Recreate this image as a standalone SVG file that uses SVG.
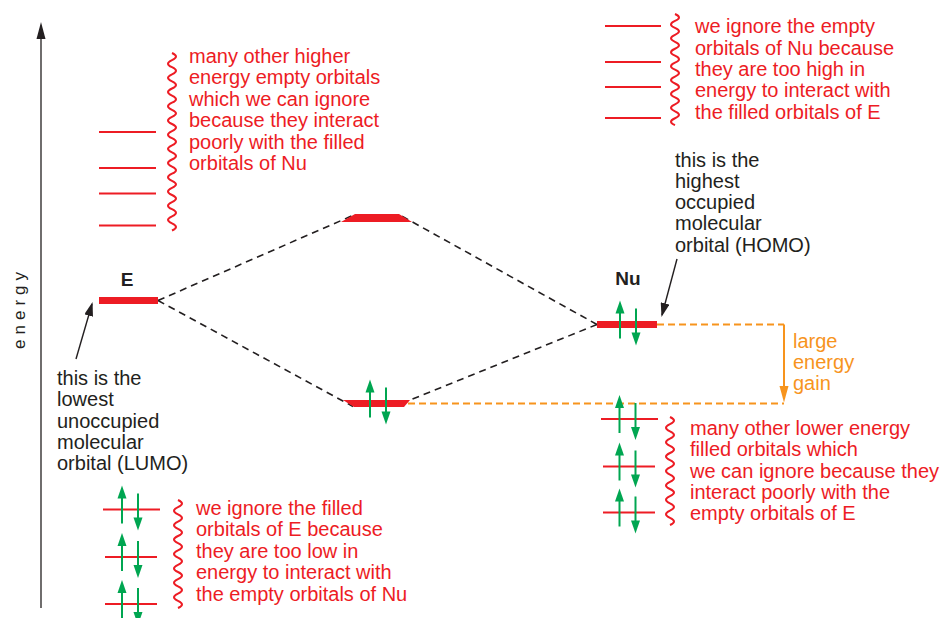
<svg xmlns="http://www.w3.org/2000/svg" width="940" height="618" viewBox="0 0 940 618">
<defs>
<style>
text{font-family:"Liberation Sans",Arial,Helvetica,sans-serif;font-size:20px}
.red{fill:#ED1C24}
.blk{fill:#231F20}
.org{fill:#F7941D}
.lbl{font-weight:bold;font-size:19px;fill:#231F20}
.lvl{stroke:#ED1C24;stroke-width:2;fill:none}
.bar{fill:#ED1C24}
.wave{stroke:#ED1C24;stroke-width:2;fill:none}
.dash{stroke:#231F20;stroke-width:1.6;stroke-dasharray:7 5;fill:none}
.odash{stroke:#F7941D;stroke-width:2;stroke-dasharray:7 4;fill:none}
.ptr{stroke:#231F20;stroke-width:1.4;fill:none}
</style>
<marker id="ah" markerUnits="userSpaceOnUse" viewBox="0 0 14 9" markerWidth="14" markerHeight="9" refX="12" refY="4.5" orient="auto">
<path d="M0,0 L14,4.5 L0,9 z" fill="#231F20"/>
</marker>
<g id="spin">
<line x1="-8" y1="14" x2="-8" y2="-12" stroke="#00A651" stroke-width="2"/>
<polygon points="-8,-24 -12.5,-11 -3.5,-11" fill="#00A651"/>
<line x1="8" y1="-16" x2="8" y2="9" stroke="#00A651" stroke-width="2"/>
<polygon points="8,21 3.5,8 12.5,8" fill="#00A651"/>
</g>
</defs>
<rect width="940" height="618" fill="#fff"/>

<g id="axis">
<line x1="41" y1="608" x2="41" y2="36" stroke="#231F20" stroke-width="1.3"/>
<polygon points="41,22 36.5,39 45.5,39" fill="#231F20"/>
<text class="blk" transform="translate(25,308) rotate(-90)" text-anchor="middle" style="font-size:17px;letter-spacing:5px">energy</text>
</g>

<g id="connectors">
<line class="dash" x1="158" y1="300.5" x2="355" y2="214.5"/>
<line class="dash" x1="158" y1="300.5" x2="353" y2="406.5"/>
<line class="dash" x1="597" y1="324.5" x2="399" y2="214.5"/>
<line class="dash" x1="597" y1="324.5" x2="409" y2="400.5"/>
<line class="odash" x1="657" y1="324.5" x2="784" y2="324.5"/>
<line class="odash" x1="408" y1="403.5" x2="784" y2="403.5"/>
<line x1="784" y1="324.5" x2="784" y2="388" stroke="#F7941D" stroke-width="2"/>
<polygon points="784,402.5 779.5,386 788.5,386" fill="#F7941D"/>
<line class="ptr" x1="677" y1="259" x2="662" y2="315" marker-end="url(#ah)"/>
<line class="ptr" x1="76" y1="359" x2="92" y2="304" marker-end="url(#ah)"/>
</g>

<g id="E-upper">
<line class="lvl" x1="99" y1="132" x2="156" y2="132"/>
<line class="lvl" x1="99" y1="168" x2="156" y2="168"/>
<line class="lvl" x1="99" y1="193.5" x2="156" y2="193.5"/>
<line class="lvl" x1="99" y1="225.5" x2="156" y2="225.5"/>
<path class="wave" d="M172,53 q8,3.55 0,7.1 t0,7.1 t0,7.1 t0,7.1 t0,7.1 t0,7.1 t0,7.1 t0,7.1 t0,7.1 t0,7.1 t0,7.1 t0,7.1 t0,7.1 t0,7.1 t0,7.1 t0,7.1 t0,7.1 t0,7.1 t0,7.1 t0,7.1 t0,7.1 t0,7.1 t0,7.1 t0,7.1 t0,7.1"/>
<text class="red" x="189">
<tspan x="189" y="63">many other higher</tspan>
<tspan x="189" y="84.4">energy empty orbitals</tspan>
<tspan x="189" y="105.8">which we can ignore</tspan>
<tspan x="189" y="127.2">because they interact</tspan>
<tspan x="189" y="148.6">poorly with the filled</tspan>
<tspan x="189" y="170">orbitals of Nu</tspan>
</text>
</g>

<g id="E">
<text class="lbl" x="127" y="286" text-anchor="middle">E</text>
<rect class="bar" x="99" y="297" width="59" height="7"/>
</g>

<g id="LUMO-note">
<text class="blk">
<tspan x="57" y="385">this is the</tspan>
<tspan x="57" y="406.3">lowest</tspan>
<tspan x="57" y="427.6">unoccupied</tspan>
<tspan x="57" y="448.9">molecular</tspan>
<tspan x="57" y="470.2">orbital (LUMO)</tspan>
</text>
</g>

<g id="E-lower">
<line class="lvl" x1="103" y1="509.5" x2="160" y2="509.5"/>
<line class="lvl" x1="105" y1="557" x2="157" y2="557"/>
<line class="lvl" x1="105" y1="604" x2="157" y2="604"/>
<use href="#spin" transform="translate(130,509.5)"/>
<use href="#spin" transform="translate(130,557)"/>
<use href="#spin" transform="translate(130,604)"/>
<path class="wave" d="M178,500 q8,3.6 0,7.2 t0,7.2 t0,7.2 t0,7.2 t0,7.2 t0,7.2 t0,7.2 t0,7.2 t0,7.2 t0,7.2 t0,7.2 t0,7.2 t0,7.2 t0,7.2 t0,7.2"/>
<text class="red">
<tspan x="196" y="515">we ignore the filled</tspan>
<tspan x="196" y="536.4">orbitals of E because</tspan>
<tspan x="196" y="557.8">they are too low in</tspan>
<tspan x="196" y="579.2">energy to interact with</tspan>
<tspan x="196" y="600.6">the empty orbitals of Nu</tspan>
</text>
</g>

<g id="MO-upper">
<polygon class="bar" points="355,214 399,214 412,222 341,222"/>
</g>

<g id="MO-lower">
<polygon class="bar" points="343,400 410,400 404,407 354,407"/>
<use href="#spin" transform="translate(378,403.5)"/>
</g>

<g id="Nu-upper">
<line class="lvl" x1="605" y1="26" x2="661" y2="26"/>
<line class="lvl" x1="605" y1="62" x2="661" y2="62"/>
<line class="lvl" x1="605" y1="87" x2="661" y2="87"/>
<line class="lvl" x1="605" y1="118" x2="661" y2="118"/>
<path class="wave" d="M675,14 q8,3.47 0,6.95 t0,6.95 t0,6.95 t0,6.95 t0,6.95 t0,6.95 t0,6.95 t0,6.95 t0,6.95 t0,6.95 t0,6.95 t0,6.95 t0,6.95 t0,6.95 t0,6.95 t0,6.95"/>
<text class="red">
<tspan x="695" y="33.3">we ignore the empty</tspan>
<tspan x="695" y="54.6">orbitals of Nu because</tspan>
<tspan x="695" y="75.9">they are too high in</tspan>
<tspan x="695" y="97.2">energy to interact with</tspan>
<tspan x="695" y="118.5">the filled orbitals of E</tspan>
</text>
</g>

<g id="HOMO-note">
<text class="blk">
<tspan x="675" y="166.5">this is the</tspan>
<tspan x="675" y="187.8">highest</tspan>
<tspan x="675" y="209.1">occupied</tspan>
<tspan x="675" y="230.4">molecular</tspan>
<tspan x="675" y="251.7">orbital (HOMO)</tspan>
</text>
</g>

<g id="Nu">
<text class="lbl" x="628" y="285" text-anchor="middle">Nu</text>
<rect class="bar" x="597" y="321" width="60" height="7"/>
<use href="#spin" transform="translate(628,324.5)"/>
</g>

<g id="gain-label">
<text class="org">
<tspan x="793" y="347.5">large</tspan>
<tspan x="793" y="368.8">energy</tspan>
<tspan x="793" y="390.1">gain</tspan>
</text>
</g>

<g id="Nu-lower">
<line class="lvl" x1="601" y1="419" x2="658" y2="419"/>
<line class="lvl" x1="603" y1="466.5" x2="655" y2="466.5"/>
<line class="lvl" x1="603" y1="512.5" x2="655" y2="512.5"/>
<use href="#spin" transform="translate(627.5,419)"/>
<use href="#spin" transform="translate(627.5,466.5)"/>
<use href="#spin" transform="translate(627.5,512.5)"/>
<path class="wave" d="M670,417 q8,3.6 0,7.2 t0,7.2 t0,7.2 t0,7.2 t0,7.2 t0,7.2 t0,7.2 t0,7.2 t0,7.2 t0,7.2 t0,7.2 t0,7.2 t0,7.2 t0,7.2 t0,7.2"/>
<text class="red">
<tspan x="690" y="435">many other lower energy</tspan>
<tspan x="690" y="456.3">filled orbitals which</tspan>
<tspan x="690" y="477.6">we can ignore because they</tspan>
<tspan x="690" y="498.9">interact poorly with the</tspan>
<tspan x="690" y="520.2">empty orbitals of E</tspan>
</text>
</g>
</svg>
